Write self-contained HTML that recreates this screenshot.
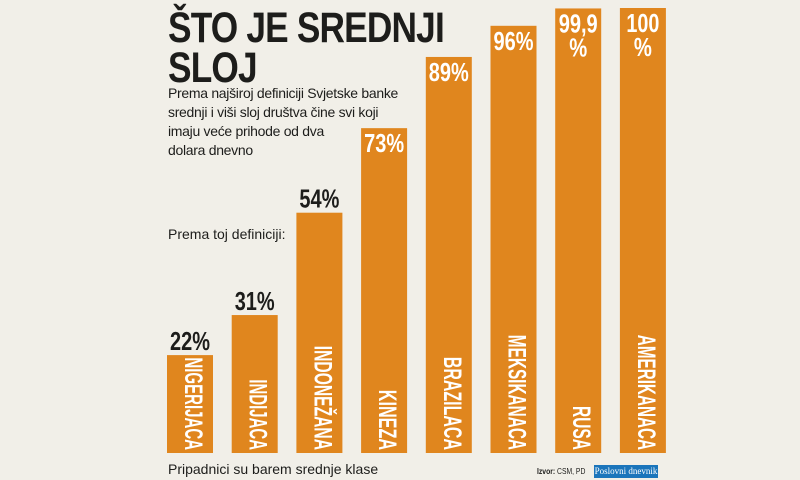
<!DOCTYPE html>
<html><head><meta charset="utf-8"><style>
body{margin:0;width:800px;height:480px;background:#f1efe8;overflow:hidden;font-family:"Liberation Sans",sans-serif;}
#c{position:absolute;left:0;top:0}
.t{position:absolute;left:168px;color:#1d1d1b;white-space:nowrap}
</style></head><body>
<div class="t" style="top:8px;font:bold 43px/40px 'Liberation Sans',sans-serif;letter-spacing:-1px;transform:scaleX(0.82);transform-origin:0 0">ŠTO JE SREDNJI<br>SLOJ</div>
<div class="t" style="top:84px;font:14px/19px 'Liberation Sans',sans-serif;letter-spacing:-0.3px">Prema najširoj definiciji Svjetske banke<br>srednji i viši sloj društva čine svi koji<br>imaju veće prihode od dva<br>dolara dnevno</div>
<div class="t" style="top:226px;font:14px 'Liberation Sans',sans-serif">Prema toj definiciji:</div>
<div class="t" style="top:461px;font:14px 'Liberation Sans',sans-serif">Pripadnici su barem srednje klase</div>
<div class="t" style="left:537px;top:467px;font:8px 'Liberation Sans',sans-serif;transform:scaleX(0.85);transform-origin:0 0"><b>Izvor:</b> CSM, PD</div>
<div style="position:absolute;left:594px;top:465px;width:64px;height:13px;background:#1b75bb;color:#fff;font:9px/13px 'Liberation Serif',serif;text-align:center;white-space:nowrap;overflow:hidden">Poslovni dnevnik</div>
<svg id="c" width="800" height="480"></svg>
<script>
const categories=["NIGERIJACA","INDIJACA","INDONEŽANA","KINEZA","BRAZILACA","MEKSIKANACA","RUSA","AMERIKANACA"];
const values=[22,31,54,73,89,96,99.9,100];
const valueLabels=["22%","31%","54%","73%","89%","96%","99,9\n%","100\n%"];
const svg=document.getElementById('c');
const NS='http://www.w3.org/2000/svg';
const base=453,scale=4.45,x0=167,step=64.7,bw=46;
const y=v=>base-v*scale;
const x=i=>x0+i*step;
const wLabel=s=>[...s].reduce((a,ch)=>a+("IJ".includes(ch)?5.2:11.0),0);
const wVal=s=>[...s].reduce((a,ch)=>a+(ch==='%'?18:ch===','?6:11),0);
categories.forEach((c,i)=>{
 const r=document.createElementNS(NS,'rect');
 
 
 r.setAttribute('x',x(i));r.setAttribute('y',y(values[i]));r.setAttribute('width',bw);r.setAttribute('height',base-y(values[i]));r.setAttribute('fill','#e0861e');
 svg.appendChild(r);
 const t=document.createElementNS(NS,'text');
 
 
 t.setAttribute('transform',`translate(${x(i)+bw/2-5},${base-3}) rotate(90)`);
 t.setAttribute('text-anchor','end');
 t.setAttribute('textLength',wLabel(c));
 t.setAttribute('lengthAdjust','spacingAndGlyphs');
 t.setAttribute('font-family','Liberation Sans, sans-serif');
 t.setAttribute('font-weight','bold');t.setAttribute('font-size','25');t.setAttribute('fill','#fff');
 t.textContent=c;svg.appendChild(t);
 const inside=values[i]>60;
 const lines=valueLabels[i].split('\n');
 lines.forEach((l,k)=>{
  const v=document.createElementNS(NS,'text');
  
  
  v.setAttribute('x',x(i)+bw/2);
  v.setAttribute('text-anchor','middle');
  v.setAttribute('y',inside?y(values[i])+24+k*24:y(values[i])-5);
  v.setAttribute('textLength',wVal(l));
  v.setAttribute('lengthAdjust','spacingAndGlyphs');
  v.setAttribute('font-weight','bold');v.setAttribute('font-size','26');
  v.setAttribute('font-family','Liberation Sans, sans-serif');
  v.setAttribute('fill',inside?'#fff':'#1d1d1b');
  v.textContent=l;svg.appendChild(v);
 });
});
</script>
</body></html>
